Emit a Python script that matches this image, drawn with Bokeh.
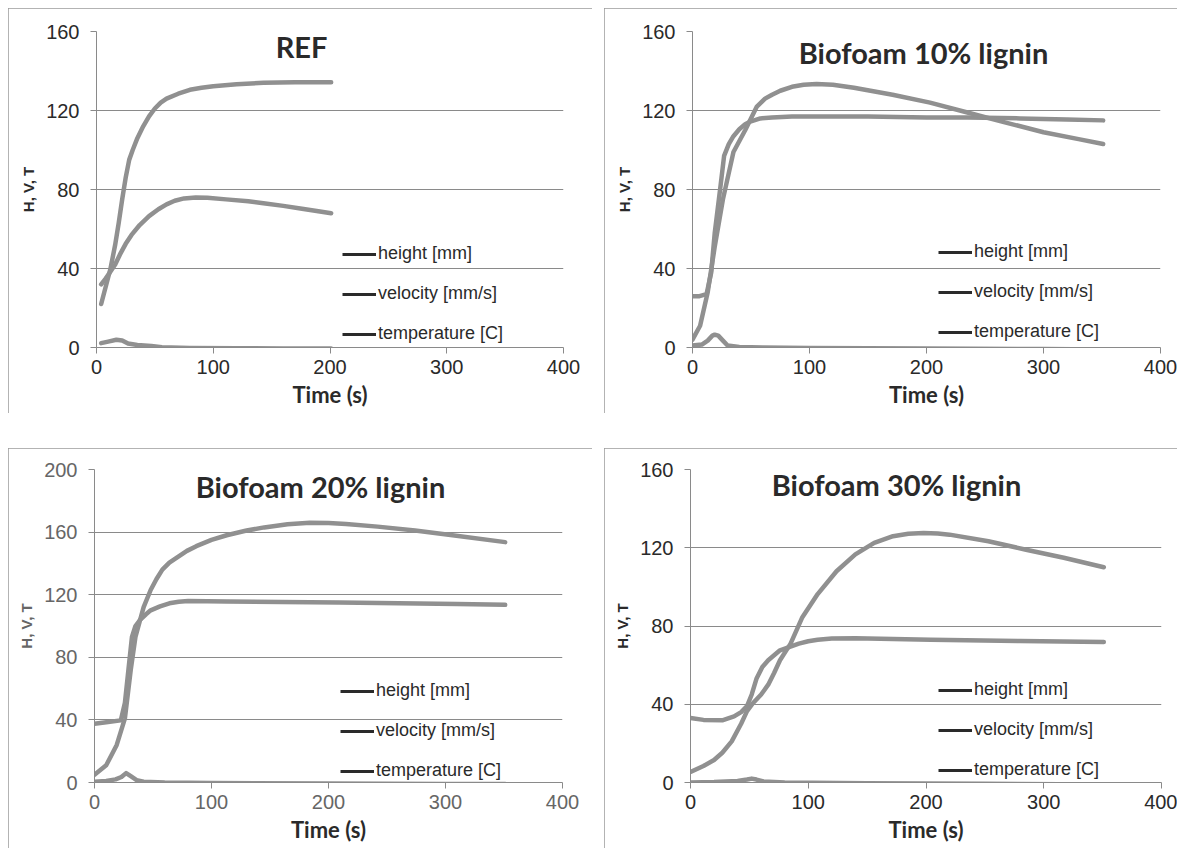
from bokeh.plotting import figure
from bokeh.models import Legend, LegendItem, Label, FixedTicker, Spacer
from bokeh.layouts import row, column
from bokeh.embed import file_html
from bokeh.resources import INLINE

# ---------------- data ----------------
titles = ["REF", "Biofoam 10% lignin", "Biofoam 20% lignin", "Biofoam 30% lignin"]
series_names = ["height [mm]", "velocity [mm/s]", "temperature [C]"]
x_ticks = [0, 100, 200, 300, 400]
y_ticks_160 = [0, 40, 80, 120, 160]
y_ticks_200 = [0, 40, 80, 120, 160, 200]

# REF
ref_height_t = [4, 8, 12, 16, 19, 22, 25, 28, 31, 35, 40, 45, 50, 55, 60, 70, 80, 90, 100, 120, 143, 170, 201]
ref_height = [22, 31, 40, 52, 63, 75, 86, 95, 100, 106, 112, 117, 121, 124, 126, 128.5, 130.5, 131.5, 132.3, 133.3, 134, 134.3, 134.3]
ref_vel_t = [4, 10, 17, 22, 27, 35, 47, 56, 80, 120, 160, 201]
ref_vel = [2.2, 3.0, 3.9, 3.5, 2.0, 1.3, 0.8, 0.1, -0.2, -0.4, -0.5, -0.5]
ref_temp_t = [4, 8, 12, 16, 20, 25, 30, 37, 45, 53, 60, 67, 75, 85, 95, 111, 130, 143, 160, 176, 190, 201]
ref_temp = [32, 35, 38.5, 42, 47, 52.5, 57, 62, 66.5, 70, 72.5, 74.3, 75.5, 76, 75.8, 75, 74, 73, 71.7, 70.3, 69, 68]

# 10 % lignin
h10_t = [0, 6, 12, 16, 19, 24, 27, 31, 35, 40, 45, 50, 58, 68, 85, 106, 150, 200, 235, 280, 320, 351]
h10 = [26, 26, 27, 38, 58, 82, 97, 103, 107, 110.5, 113, 114.5, 116, 116.5, 117, 117, 117, 116.5, 116.5, 116, 115.5, 115]
v10_t = [0, 8, 13, 17, 19, 22, 26, 30, 40, 60, 100, 200, 300, 351]
v10 = [1, 1.5, 3.5, 6, 6.5, 6, 3.5, 1, 0.3, 0, -0.2, -0.5, -0.8, -1]
t10_t = [0, 6.5, 13, 19, 26, 35, 45, 55, 62, 68, 75, 85, 95, 106, 120, 138, 171, 203, 235, 267, 300, 330, 351]
t10 = [4, 11, 28, 51, 75, 99, 110, 122, 126, 128, 130, 132, 133, 133.4, 133, 131.5, 128, 124, 119, 114, 109, 105.5, 103]

# 20 % lignin
h20_t = [0, 10, 22.5, 26, 29, 32, 35, 39, 44, 48, 56, 64, 72, 80, 113, 160, 209, 260, 310, 351]
h20 = [37.5, 38.5, 39.7, 51, 72, 93, 100, 104, 107.5, 110, 112.5, 114.5, 115.5, 116, 115.6, 115.3, 115, 114.5, 114, 113.5]
v20_t = [0, 10, 18, 23, 27, 31, 36, 42, 60, 100, 200, 300, 351]
v20 = [0.5, 1, 2, 3.5, 6, 4, 1.5, 0.5, 0, -0.3, -0.6, -0.9, -1]
t20_t = [0, 10, 19, 26, 31, 35, 42, 48, 53, 58, 64, 71, 79, 87, 100, 113, 130, 145, 165, 184, 200, 215, 242, 274, 306, 351]
t20 = [5, 11, 24, 41, 72, 93, 112, 123, 130, 136, 140.5, 144, 148, 151, 155, 158, 161, 163, 165, 166, 165.8, 165.2, 163.5, 161, 158, 153.6]

# 30 % lignin
h30_t = [0, 11, 27, 37, 43, 48, 52, 56, 61, 66, 76, 92, 100, 108, 120, 140, 204, 280, 351]
h30 = [33, 32, 31.8, 33.8, 36, 39, 45, 53, 59, 62.5, 67.6, 71, 72.2, 73, 73.6, 73.8, 73, 72.3, 71.8]
v30_t = [0, 20, 40, 48, 52, 56, 62, 80, 150, 250, 351]
v30 = [0, 0.2, 0.8, 1.5, 2, 1.5, 0.5, 0, -0.4, -0.7, -1]
t30_t = [0, 11, 20, 27, 35, 43, 48, 53, 60, 66, 71, 76, 85, 95, 108, 124, 140, 156, 172, 185, 198, 210, 220, 253, 285, 317, 351]
t30 = [5.4, 8.4, 11.5, 15.2, 21, 30, 36.5, 40.5, 45, 50, 56, 62.5, 71, 84.5, 96.3, 108, 116.6, 122.5, 125.9, 127.2, 127.6, 127.3, 126.7, 123.3, 119, 114.9, 110]

CURVE = "#909090"
GRID = "#8a8a8a"
DARK = "#2a2a2a"
NAN = float("nan")


def make_panel(title, series, y_max, y_ticks, width, height, borders, legend_loc, title_pos, tick_color=DARK):
    left, right, top, bottom = borders
    p = figure(width=width, height=height, x_range=(0, 400), y_range=(0, y_max),
               title=None, output_backend="svg", toolbar_location=None,
               min_border_left=left, min_border_right=right,
               min_border_top=top, min_border_bottom=bottom)
    p.outline_line_color = None
    p.background_fill_color = "white"
    p.border_fill_color = "white"
    p.xgrid.visible = False
    p.ygrid.grid_line_color = GRID
    p.ygrid.grid_line_width = 1

    p.xaxis.ticker = FixedTicker(ticks=x_ticks)
    p.yaxis.ticker = FixedTicker(ticks=y_ticks)
    for ax in (p.xaxis[0], p.yaxis[0]):
        ax.axis_line_color = GRID
        ax.major_tick_line_color = GRID
        ax.minor_tick_line_color = None
        ax.major_tick_in = 0
        ax.major_tick_out = 6
        ax.major_label_text_font = "Liberation Sans"
        ax.major_label_text_font_size = "20px"
        ax.major_label_text_color = tick_color
    p.xaxis.major_label_standoff = 6
    p.yaxis.major_label_standoff = 11
    p.xaxis.axis_label = "Time (s)"
    p.xaxis.axis_label_text_font = "Lato"
    p.xaxis.axis_label_text_font_style = "bold"
    p.xaxis.axis_label_text_font_size = "22px"
    p.xaxis.axis_label_text_color = DARK
    p.xaxis.axis_label_standoff = 4
    p.yaxis.axis_label = "H, V, T"
    p.yaxis.axis_label_text_font = "Liberation Sans"
    p.yaxis.axis_label_text_font_style = "bold"
    p.yaxis.axis_label_text_font_size = "15px"
    p.yaxis.axis_label_text_color = tick_color
    p.yaxis.axis_label_standoff = 6

    for (tx, vy) in series:
        p.line(tx, vy, line_color=CURVE, line_width=4.5, line_join="round", line_cap="round")
    dummies = [p.line([NAN], [NAN], line_color=DARK, line_width=3) for _ in series_names]

    legend = Legend(items=[LegendItem(label=n, renderers=[r]) for n, r in zip(series_names, dummies)],
                    location=legend_loc, margin=0, padding=0,
                    border_line_color=None, background_fill_alpha=0,
                    label_text_font="Liberation Sans", label_text_font_size="18px",
                    label_text_color=DARK,
                    glyph_width=34, glyph_height=20, label_height=20,
                    spacing=19, label_standoff=2)
    p.add_layout(legend)

    frame_h = height - top - bottom
    p.add_layout(Label(x=title_pos[0], y=frame_h - title_pos[1], x_units="screen", y_units="screen",
                       text=title, text_font="Lato", text_font_style="bold",
                       text_font_size="29px", text_color=DARK,
                       text_align="center", text_baseline="middle"))
    p.styles = {"outline": "1px solid #9a9a9a", "outline-offset": "-1px"}
    return p


# borders: (left, right, top, bottom); title_pos: (x from frame left, depth below frame top)
p1 = make_panel(titles[0], [(ref_height_t, ref_height), (ref_vel_t, ref_vel), (ref_temp_t, ref_temp)],
                160, y_ticks_160, 584, 405, (88, 29, 23, 66), (246, 3), (205, 15))
p2 = make_panel(titles[1], [(h10_t, h10), (v10_t, v10), (t10_t, t10)],
                160, y_ticks_160, 573, 405, (88, 17, 23, 66), (246, 5), (231, 21))
p3 = make_panel(titles[2], [(h20_t, h20), (v20_t, v20), (t20_t, t20)],
                200, y_ticks_200, 584, 400, (86, 30, 21, 66), (246, 1), (226, 17), tick_color="#666666")
p4 = make_panel(titles[3], [(h30_t, h30), (v30_t, v30), (t30_t, t30)],
                160, y_ticks_160, 573, 400, (86, 16, 21, 66), (248, 2), (206, 15))

grid = column(row(p1, p2, spacing=12), row(p3, p4, spacing=12), spacing=35)
layout = column(Spacer(height=8, width=8), row(Spacer(width=8, height=8), grid))

open("out.html", "w").write(file_html(layout, INLINE))
